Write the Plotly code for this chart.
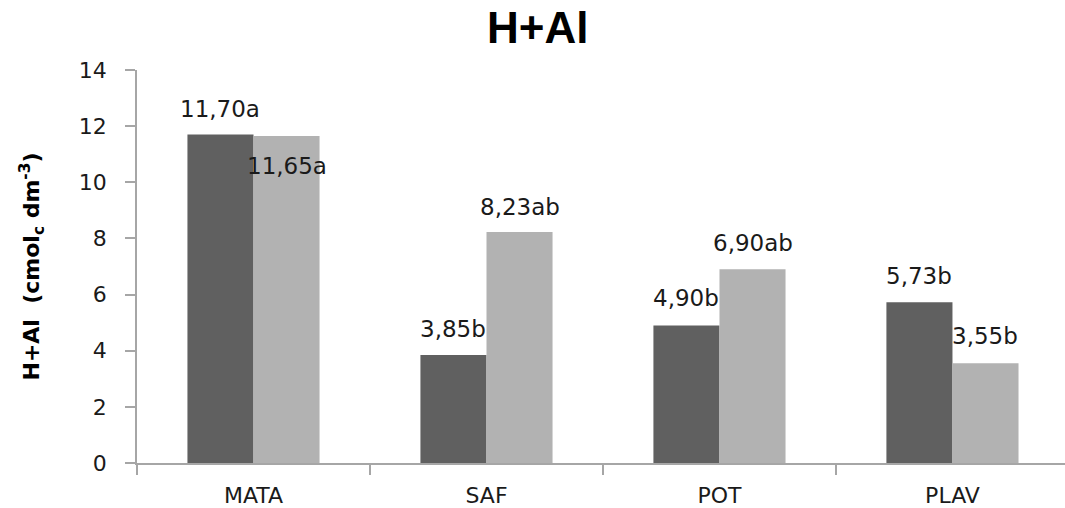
import plotly.graph_objects as go

categories = ["MATA", "SAF", "POT", "PLAV"]
series1_values = [11.70, 3.85, 4.90, 5.73]
series2_values = [11.65, 8.23, 6.90, 3.55]
series1_labels = ["11,70a", "3,85b", "4,90b", "5,73b"]
series2_labels = ["11,65a", "8,23ab", "6,90ab", "3,55b"]
y_ticks = [0, 2, 4, 6, 8, 10, 12, 14]

DARK = "#606060"
LIGHT = "#b2b2b2"
AXIS = "#a6a6a6"
TXT = "#1a1a1a"
FONT = "DejaVu Sans"
BARGAP = 0.433

# label vertical offsets (px) from bar top
s1_shift = [26, 26, 27, 26]
s2_shift = [-30, 25, 26, 27]

fig = go.Figure()
fig.add_trace(go.Bar(x=categories, y=series1_values, marker=dict(color=DARK, line=dict(width=0)), showlegend=False))
fig.add_trace(go.Bar(x=categories, y=series2_values, marker=dict(color=LIGHT, line=dict(width=0)), showlegend=False))

off = (1 - BARGAP) / 4
annotations = []
for i in range(len(categories)):
    annotations.append(dict(x=i - off, y=series1_values[i], xref="x", yref="y", text=series1_labels[i],
                            showarrow=False, yanchor="middle", xanchor="center", yshift=s1_shift[i],
                            font=dict(family=FONT, size=23, color=TXT)))
    annotations.append(dict(x=i + off, y=series2_values[i], xref="x", yref="y", text=series2_labels[i],
                            showarrow=False, yanchor="middle", xanchor="center", yshift=s2_shift[i],
                            font=dict(family=FONT, size=23, color=TXT)))

fig.update_layout(
    width=1065, height=508,
    margin=dict(l=137, r=0, t=70, b=45),
    paper_bgcolor="white", plot_bgcolor="white",
    barmode="group", bargap=BARGAP, bargroupgap=0,
    title=dict(text="<b>H+Al</b>", x=0.505, xanchor="center", y=1 - 28 / 508, yanchor="middle",
               font=dict(family="Liberation Sans", size=44, color="#000000")),
    annotations=annotations,
    xaxis=dict(type="category", range=[-0.5, 3.483], showline=True, linecolor=AXIS, linewidth=1.5,
               ticks="outside", tickson="boundaries", ticklen=10, tickcolor=AXIS, tickwidth=1.5,
               tickfont=dict(family=FONT, size=22, color=TXT), ticklabelstandoff=12, showgrid=False),
    yaxis=dict(range=[0, 14], tickvals=y_ticks, showline=True, linecolor=AXIS, linewidth=1.5,
               ticks="outside", ticklen=10, tickcolor=AXIS, tickwidth=1.5, showgrid=False, zeroline=False,
               tickfont=dict(family=FONT, size=22, color=TXT), ticklabelstandoff=14,
               title=dict(text="<b>H+Al&nbsp;&nbsp;(cmol<sub>c</sub> dm<sup>-3</sup>)</b>", standoff=33,
                          font=dict(family=FONT, size=22, color="#000000"))),
)

fig.write_html("out.html", config={"displayModeBar": False},
               post_script="document.body.style.margin='0';document.body.style.padding='0';")
